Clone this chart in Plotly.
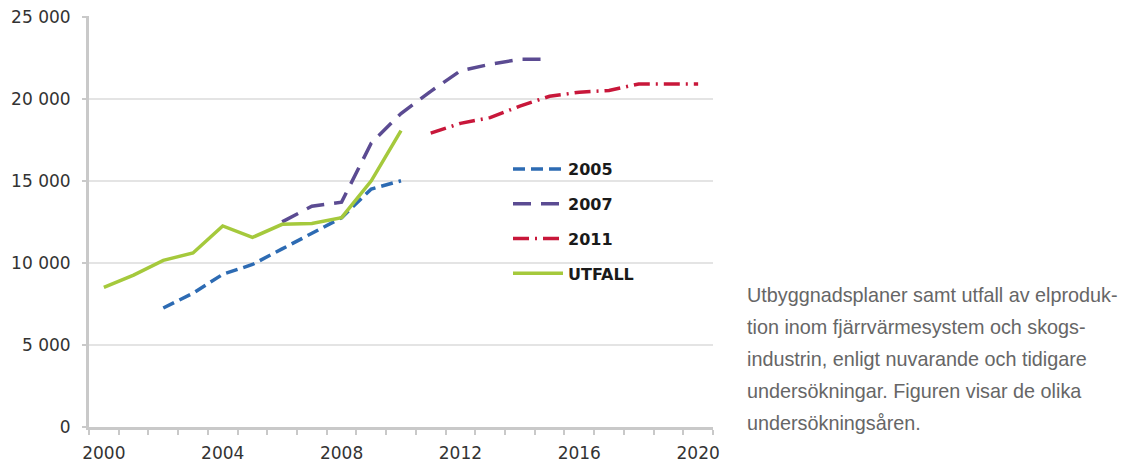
import plotly.graph_objects as go

# ---- data ----
years_2005 = [2002, 2003, 2004, 2005, 2006, 2007, 2008, 2009, 2010]
vals_2005 = [7250, 8150, 9300, 9900, 10850, 11800, 12750, 14500, 15000]

years_2007 = [2006, 2007, 2008, 2009, 2010, 2011, 2012, 2013, 2014, 2015]
vals_2007 = [12500, 13450, 13700, 17300, 19100, 20450, 21700, 22100, 22400, 22400]

years_2011 = [2011, 2012, 2013, 2014, 2015, 2016, 2017, 2018, 2019, 2020]
vals_2011 = [17900, 18500, 18850, 19550, 20150, 20400, 20500, 20900, 20900, 20900]

years_utfall = [2000, 2001, 2002, 2003, 2004, 2005, 2006, 2007, 2008, 2009, 2010]
vals_utfall = [8500, 9250, 10150, 10600, 12250, 11550, 12350, 12400, 12750, 15000, 18050]

y_ticks = [0, 5000, 10000, 15000, 20000, 25000]
y_ticktext = ["0", "5 000", "10 000", "15 000", "20 000", "25 000"]
x_ticks = [2000, 2004, 2008, 2012, 2016, 2020]

caption_lines = [
    "Utbyggnadsplaner samt utfall av elproduk-",
    "tion inom fjärrvärmesystem och skogs-",
    "industrin, enligt nuvarande och tidigare",
    "undersökningar. Figuren visar de olika",
    "undersökningsåren.",
]

# ---- figure ----
fig = go.Figure()
series = [
    ("2005", years_2005, vals_2005, "#2d6bb3", "12px,6px"),
    ("2007", years_2007, vals_2007, "#5b4b92", "18px,10px"),
    ("2011", years_2011, vals_2011, "#c8173a", "16px,6px,2px,6px"),
    ("UTFALL", years_utfall, vals_utfall, "#a5c93c", "solid"),
]
for name, xs, ys, col, dash in series:
    fig.add_trace(go.Scatter(
        x=xs, y=ys, mode="lines", name=name, legendgroup=name,
        line=dict(color=col, width=3.5, dash=dash),
    ))

OFF = 8  # page body margin offset in the browser
W, H = 1130, 464
L, R, T, B = 89 - OFF, 417 + OFF, 16 - OFF, 37 + OFF
pw = W - L - R
ph = H - T - B


def px_x(sx):
    return (sx - OFF - L) / pw


def px_y(sy):
    return (H - B - (sy - OFF)) / ph


TICK_FONT = "DejaVu Sans, Verdana, sans-serif"

fig.update_layout(
    width=W, height=H,
    margin=dict(l=L, r=R, t=T, b=B, pad=0, autoexpand=False),
    paper_bgcolor="white", plot_bgcolor="white",
    font=dict(family="Liberation Sans, Arial, sans-serif", color="#3a3a3a"),
    showlegend=True,
    legend=dict(
        x=px_x(508), xanchor="left",
        y=px_y(152), yanchor="top",
        bgcolor="rgba(255,255,255,0)", borderwidth=0,
        font=dict(size=16, color="#1a1a1a", weight="bold", family=TICK_FONT),
        itemwidth=50, tracegroupgap=11,
        traceorder="grouped",
    ),
    xaxis=dict(
        range=[1999.5, 2020.5], automargin=False,
        tickvals=x_ticks, ticktext=[str(v) for v in x_ticks],
        ticks="", showgrid=False, zeroline=False,
        showline=True, linecolor="#c9c9c9", linewidth=3,
        tickfont=dict(size=17, color="#333333", family=TICK_FONT),
        ticklabelstandoff=9, ticklabeloverflow="allow",
        minor=dict(ticks="outside", tick0=1999.5, dtick=1, ticklen=5,
                   tickcolor="#c9c9c9", tickwidth=2, showgrid=False),
    ),
    yaxis=dict(
        range=[0, 25040], automargin=False,
        tickvals=y_ticks, ticktext=y_ticktext,
        ticks="outside", ticklen=4, tickcolor="#c9c9c9", tickwidth=2,
        showgrid=True, gridcolor="#e4e4e4", gridwidth=2,
        zeroline=False,
        showline=True, linecolor="#c9c9c9", linewidth=3,
        tickfont=dict(size=17, color="#333333", family=TICK_FONT),
        ticklabelstandoff=8, ticklabeloverflow="allow",
    ),
)

# white panel behind the legend (hides gridlines like the original)
fig.add_shape(
    type="rect", xref="paper", yref="paper", layer="between",
    x0=px_x(490), x1=px_x(656), y0=px_y(296), y1=px_y(150),
    fillcolor="white", line=dict(width=0),
)

# caption on the right
for i, line in enumerate(caption_lines):
    yc = 295 + 32 * i
    fig.add_annotation(
        text=line, xref="paper", yref="paper",
        x=px_x(745), y=px_y(yc),
        xanchor="left", yanchor="middle", showarrow=False,
        font=dict(size=19.8, color="#666666", family="Liberation Sans, Arial, sans-serif"),
    )

fig.write_html("out.html")
